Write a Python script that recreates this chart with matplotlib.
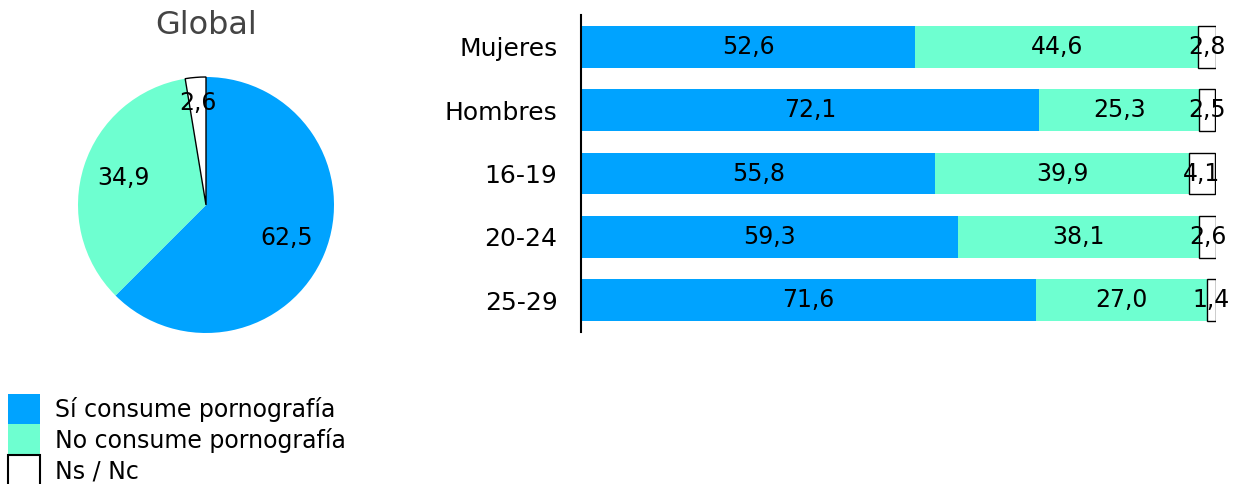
import matplotlib.pyplot as plt
import matplotlib.patches as mpatches
import numpy as np

categorias = ['Mujeres', 'Hombres', '16-19', '20-24', '25-29']
si_consume = [52.6, 72.1, 55.8, 59.3, 71.6]
no_consume = [44.6, 25.3, 39.9, 38.1, 27.0]
ns_nc = [2.8, 2.5, 4.1, 2.6, 1.4]

global_vals = [62.5, 34.9, 2.6]
leyenda = ['Sí consume pornografía', 'No consume pornografía', 'Ns / Nc']

AZUL = '#00a3ff'
VERDE = '#6effd0'
BLANCO = '#ffffff'

plt.rcParams['font.family'] = ['DejaVu Sans']


def coma(v):
    return f'{v:.1f}'.replace('.', ',')


fig = plt.figure(figsize=(12.33, 4.84), dpi=100)
W, H = 1233, 484

# tarta global
r = 128
cx, cy = 206, 205
ax_p = fig.add_axes([(cx - r) / W, 1 - (cy + r) / H, 2 * r / W, 2 * r / H])
wedges, _ = ax_p.pie(global_vals, colors=[AZUL, VERDE, BLANCO], startangle=90,
                     counterclock=False, radius=1)
wedges[2].set_edgecolor('black')
wedges[2].set_linewidth(1)
ax_p.set_xlim(-1, 1)
ax_p.set_ylim(-1, 1)
ax_p.set_aspect('equal')
ax_p.axis('off')
ang = 90
dists = [0.68, 0.68, 0.8]
for v, d in zip(global_vals, dists):
    mid = ang - v * 3.6 / 2
    ang -= v * 3.6
    ax_p.text(d * np.cos(np.radians(mid)), d * np.sin(np.radians(mid)), coma(v),
              ha='center', va='center', fontsize=17)
fig.text(cx / W, 1 - 25 / H, 'Global', ha='center', va='center', fontsize=23, color='#444444')

# barras
x0, x1 = 581, 1216
y0, y1 = 15, 332
ax = fig.add_axes([x0 / W, 1 - y1 / H, (x1 - x0) / W, (y1 - y0) / H])
y = np.arange(len(categorias))
si = np.array(si_consume)
no = np.array(no_consume)
ns = np.array(ns_nc)
h = 0.66
ax.barh(y, si, height=h, color=AZUL)
ax.barh(y, no, left=si, height=h, color=VERDE)
ax.barh(y, ns, left=si + no, height=h, color=BLANCO, edgecolor='black', linewidth=1)
for i in range(len(categorias)):
    ax.text(si[i] / 2, y[i], coma(si[i]), ha='center', va='center', fontsize=17)
    ax.text(si[i] + no[i] / 2, y[i], coma(no[i]), ha='center', va='center', fontsize=17)
    ax.text(si[i] + no[i] + ns[i] / 2, y[i], coma(ns[i]), ha='center', va='center', fontsize=17)
ax.set_xlim(0, 100)
ax.set_ylim(4.5, -0.5)
ax.set_yticks(y)
ax.set_yticklabels(categorias, fontsize=18)
ax.tick_params(axis='y', length=0, pad=17)
ax.set_xticks([])
for s in ['top', 'right', 'bottom']:
    ax.spines[s].set_visible(False)
ax.spines['left'].set_linewidth(1.5)

# leyenda
handles = [mpatches.Patch(facecolor=AZUL, edgecolor='none'),
           mpatches.Patch(facecolor=VERDE, edgecolor='none'),
           mpatches.Patch(facecolor=BLANCO, edgecolor='black', linewidth=1.5)]
fig.legend(handles, leyenda, loc='lower left', bbox_to_anchor=(0.0, -0.022),
           frameon=False, fontsize=17, handlelength=1.36, handleheight=1.64,
           labelspacing=0, handletextpad=0.64, borderpad=0.35, borderaxespad=0)

fig.savefig('out.png', dpi=100)
